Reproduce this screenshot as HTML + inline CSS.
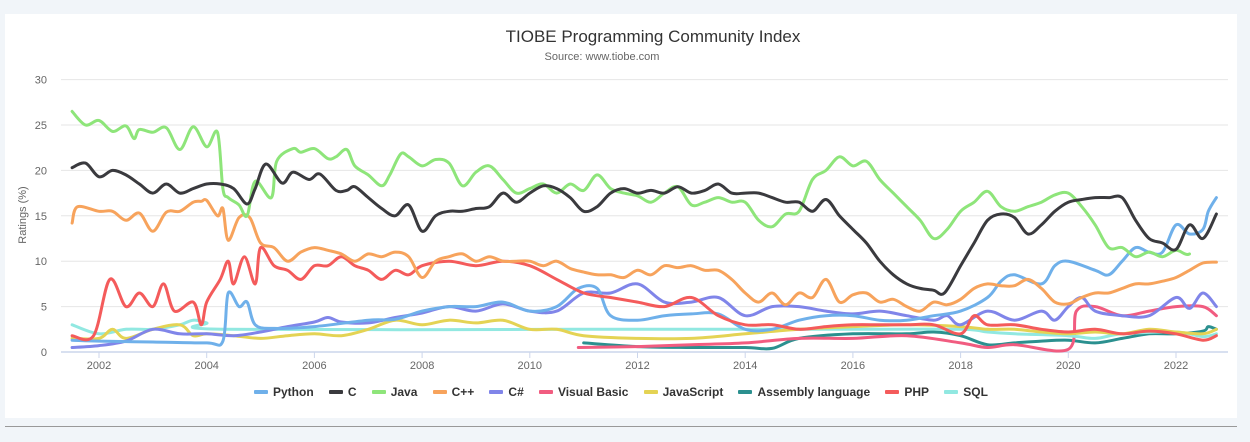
<!DOCTYPE html>
<html><head><meta charset="utf-8">
<style>
body{margin:0;width:1250px;height:442px;background:#f1f5f9;font-family:"Liberation Sans",sans-serif;overflow:hidden;position:relative}
#panel{position:absolute;left:5px;top:14px;width:1232px;height:404px;background:#fff}
#sep{position:absolute;left:5px;top:426px;width:1232px;height:1px;background:#999}
#legend{position:absolute;top:385px;left:254px;width:734px;display:flex;justify-content:space-between;font-size:12px;font-weight:bold;color:#333}
.li{display:flex;align-items:center;white-space:nowrap}
.sw{width:14px;height:4px;border-radius:1px;margin-right:5px}
</style></head><body>
<div id="panel"></div>
<svg id="chart" width="1250" height="442" style="position:absolute;left:0;top:0">
<text x="653" y="42" text-anchor="middle" font-size="17" fill="#333">TIOBE Programming Community Index</text>
<text x="602" y="60" text-anchor="middle" font-size="11" fill="#666">Source: www.tiobe.com</text>
<text transform="translate(26,215) rotate(-90)" text-anchor="middle" font-size="11" fill="#666">Ratings (%)</text>
<g id="grid"></g><g id="lines"></g>
</svg>
<div id="legend"></div>
<div id="sep"></div>
<script>
const yTicks=[0,5,10,15,20,25,30];
const xTicks=[2002,2004,2006,2008,2010,2012,2014,2016,2018,2020,2022];
const names=["Python","C","Java","C++","C#","Visual Basic","JavaScript","Assembly language","PHP","SQL"];
const colors=["#6fb0ea","#3a3a3e","#8ee57a","#f7a35c","#8085e9","#f15c80","#e4d354","#2b908f","#f45b5b","#91e8e1"];
const pythonX=[2001.5,2002,2003,2004,2004.3,2004.4,2004.6,2004.75,2004.9,2005.25,2006,2007,2007.5,2008,2008.5,2009,2009.5,2010,2010.5,2010.9,2011.25,2011.5,2012,2012.5,2013,2013.5,2014,2014.5,2015,2015.5,2016,2016.5,2017,2017.5,2018,2018.5,2018.75,2019,2019.5,2019.75,2020,2020.5,2020.75,2021,2021.25,2021.5,2021.75,2022,2022.25,2022.5,2022.6,2022.75];
const pythonY=[1.3,1.2,1.1,1.0,1.2,6.5,5,5.5,3,2.6,2.8,3.5,3.6,4.5,5,5,5.5,4.5,5,7,7,4,3.5,4,4.2,4.2,2.5,2.5,3.5,4,4,3.5,3.5,4,4.5,6,7.8,8.5,7.5,9.5,10,9,8.5,10,11.5,11,11,14,13,13.5,15.5,17];
const cX=[2001.5,2001.75,2002,2002.25,2002.5,2002.75,2003,2003.25,2003.5,2003.75,2004,2004.25,2004.5,2004.75,2004.9,2005.1,2005.4,2005.6,2005.9,2006.1,2006.4,2006.6,2006.75,2007,2007.25,2007.5,2007.75,2008,2008.25,2008.5,2008.75,2009,2009.25,2009.5,2009.75,2010,2010.25,2010.5,2010.75,2011,2011.25,2011.5,2011.75,2012,2012.25,2012.5,2012.75,2013,2013.25,2013.5,2013.75,2014,2014.25,2014.5,2014.75,2015,2015.25,2015.5,2015.75,2016,2016.25,2016.5,2016.75,2017,2017.25,2017.5,2017.7,2018,2018.25,2018.5,2018.75,2019,2019.25,2019.5,2019.75,2020,2020.25,2020.5,2020.75,2021,2021.25,2021.5,2021.75,2022,2022.25,2022.5,2022.75];
const cY=[20.3,20.8,19.3,20,19.5,18.5,17.5,18.5,17.5,18,18.5,18.5,18,16.3,18,20.7,18.6,19.8,19,19.6,17.8,17.8,18.2,17,15.8,15,16.2,13.3,15,15.5,15.5,15.8,16,17.5,16.5,17.5,18.3,18,17,15.5,16,17.5,18,17.5,17.8,17.5,18.2,17.5,17.8,18.5,17.5,17.5,17.5,17,16.5,16.5,15.5,16.8,15,13.5,12,10,8.5,7.5,7,6.8,6.5,9.5,12,14.5,15.2,14.8,13,14,15.5,16.5,16.8,17,17,17,14.5,12.5,12,11.3,14,12.5,15.2];
const javaX=[2001.5,2001.75,2002,2002.25,2002.5,2002.65,2002.75,2003,2003.25,2003.5,2003.75,2004,2004.2,2004.3,2004.4,2004.6,2004.75,2004.9,2005.2,2005.3,2005.6,2005.75,2006,2006.25,2006.4,2006.6,2006.75,2007,2007.25,2007.4,2007.6,2007.75,2008,2008.25,2008.5,2008.75,2009,2009.25,2009.5,2009.75,2010,2010.25,2010.5,2010.75,2011,2011.25,2011.5,2011.75,2012,2012.25,2012.5,2012.75,2013,2013.25,2013.5,2013.75,2014,2014.25,2014.5,2014.75,2015,2015.25,2015.5,2015.75,2016,2016.25,2016.5,2016.75,2017,2017.25,2017.5,2017.75,2018,2018.25,2018.5,2018.75,2019,2019.25,2019.5,2019.75,2020,2020.25,2020.5,2020.75,2021,2021.25,2021.5,2021.75,2022,2022.25,2022.5,2022.75];
const javaY=[26.5,25,25.5,24.3,24.9,23.5,24.5,24.2,24.7,22.3,24.8,22.6,24.2,18,17,16.2,15,18.8,17,21,22.4,22,22.4,21.3,21.5,22.3,20.5,19.5,18.3,19.5,21.8,21.5,20.5,21.2,20.8,18.3,19.8,20.5,19,17.5,18,18.5,17.5,18.5,17.8,19.5,18,17.5,17.2,16.5,17.5,18.2,16.2,16.5,17,16.5,16.5,14.5,13.8,15.2,15.5,19,20,21.5,20.5,21,19,17.5,16,14.5,12.5,13.5,15.5,16.5,17.7,16,15.5,16,16.5,17.3,17.5,16,14,11.5,11.5,10.5,11,10.5,11.2,10.8,12.8];
const cppX=[2001.5,2001.6,2002,2002.25,2002.5,2002.75,2003,2003.25,2003.5,2003.75,2003.9,2004,2004.2,2004.3,2004.4,2004.6,2004.8,2005,2005.25,2005.5,2005.75,2006,2006.25,2006.5,2006.75,2007,2007.25,2007.5,2007.75,2008,2008.25,2008.5,2008.75,2009,2009.25,2009.5,2009.75,2010,2010.25,2010.5,2010.75,2011,2011.25,2011.5,2011.75,2012,2012.25,2012.5,2012.75,2013,2013.25,2013.5,2013.75,2014,2014.25,2014.5,2014.75,2015,2015.25,2015.5,2015.75,2016,2016.25,2016.5,2016.75,2017,2017.25,2017.5,2017.75,2018,2018.25,2018.5,2018.75,2019,2019.25,2019.5,2019.75,2020,2020.25,2020.5,2020.75,2021,2021.25,2021.5,2021.75,2022,2022.25,2022.5,2022.75];
const cppY=[14.2,16,15.5,15.5,14.5,15.3,13.3,15.4,15.5,16.5,16.6,16.7,15,15.8,12.3,14.8,14.8,12,11.5,10,11,11.5,11.2,10.8,10,10.8,10.5,11,10.5,8.2,10,10.5,10.8,10,10.5,10,10,10,9.5,10,9.2,8.8,8.5,8.5,8.2,9,8.5,9.5,9.3,9.5,9,9,8,6.5,5.5,6.5,5.2,6.5,6,8,5.5,6.3,6.5,5.5,5.8,5,4.5,5.5,5.2,5.8,7,7.5,7.3,7.3,8,7,5.5,5.3,6,6.5,6.5,7,7.5,7.5,7.8,8.2,9,9.8,9.9];
const csX=[2001.5,2002,2002.5,2003,2003.5,2004,2004.5,2005,2005.5,2006,2006.25,2006.5,2007,2007.5,2008,2008.5,2009,2009.5,2010,2010.5,2011,2011.5,2012,2012.5,2013,2013.5,2014,2014.5,2015,2015.5,2016,2016.5,2017,2017.5,2017.75,2018,2018.5,2019,2019.5,2019.75,2020,2020.25,2020.5,2021,2021.5,2022,2022.25,2022.5,2022.75];
const csY=[0.5,0.7,1.2,2.5,2,2,1.8,2.2,2.8,3.3,3.8,3.3,3.2,3.8,4.3,5,4.5,5.3,4.5,4.5,6.5,6.5,7.5,5.5,5.5,6,4,5,5,4.5,4.2,4.5,4,3.5,4,3,4.5,3.5,4.5,3.5,5,6,4.5,4,4,6,4.8,6.5,5];
const vbX=[2010.9,2012,2013,2014,2015,2016,2017,2018,2018.5,2019,2020,2020.15,2020.5,2021,2021.5,2022,2022.5,2022.75];
const vbY=[0.5,0.6,0.8,1,1.5,1.5,1.8,1,0.5,0.8,0.3,4.5,5,4,4.5,5,5,4];
const jsX=[2001.5,2002,2002.25,2002.5,2003,2003.5,2003.75,2004,2004.5,2005,2005.5,2006,2006.5,2007,2007.5,2008,2008.5,2009,2009.5,2010,2010.5,2011,2012,2013,2014,2015,2016,2017,2018,2018.5,2019,2019.5,2020,2020.5,2021,2021.5,2022,2022.5,2022.75];
const jsY=[1.5,1.5,2.5,1.5,2.5,3,1.8,2,1.8,1.5,1.8,2,1.8,2.5,3.5,3,3.5,3.2,3.5,2.5,2.5,1.8,1.5,1.5,2,2.5,2.8,3,2.8,2.5,2.5,2.2,2,2.2,2,2.5,2.2,2,2.5];
const asmX=[2011,2012,2013,2014,2014.5,2015,2016,2017,2017.5,2018,2018.5,2019,2019.5,2020,2020.5,2021,2021.5,2022,2022.5,2022.6,2022.75];
const asmY=[1,0.6,0.5,0.5,0.4,1.5,2,2,2.2,1.8,0.8,1,1.2,1.3,1,1.5,2,2,2.3,2.8,2.5];
const phpX=[2001.5,2001.9,2002.2,2002.5,2002.75,2003,2003.2,2003.4,2003.75,2003.9,2004,2004.25,2004.4,2004.5,2004.7,2004.9,2005,2005.25,2005.5,2005.75,2006,2006.25,2006.5,2006.75,2007,2007.25,2007.5,2007.75,2008,2008.5,2009,2009.5,2010,2010.5,2011,2011.5,2012,2012.5,2013,2013.5,2014,2014.5,2015,2015.5,2016,2016.5,2017,2017.5,2018,2018.25,2018.5,2019,2019.5,2020,2020.5,2021,2021.5,2022,2022.5,2022.75];
const phpY=[1.8,1.8,8,5,6.5,5,7.5,4.5,5.5,3,5.5,8,10,7.5,10.5,7.5,11.5,9.5,9,8,9.5,9.5,10.5,9.5,9,8,9,8.5,9.5,10,9.5,10,9.5,8,6.5,6,5.5,5,6,4,3,3,2.5,2.8,3,3,3,3,2,4,3,3,2.5,2.2,2.5,2,2.3,2,1.3,1.8];
const sqlX=[2001.5,2002,2002.5,2003,2003.5,2003.75,2004,2004.3,2010.8,2012,2014,2016,2018,2018.5,2019,2020,2020.5,2021,2022,2022.5,2022.75];
const sqlY=[3,2,2.5,2.5,3,3.5,3.2,2.5,2.5,2.5,2.5,2.5,2.5,2.2,2,1.8,1.5,2,2.2,1.7,2];
const seriesX=[pythonX,cX,javaX,cppX,csX,vbX,jsX,asmX,phpX,sqlX];
const seriesY=[pythonY,cY,javaY,cppY,csY,vbY,jsY,asmY,phpY,sqlY];
const order=[7,5,9,6,4,0,8,3,2,1];
const X0=61,X1=1228;
function xs(yr){return 99+(yr-2002)*53.85;}
function ys(v){return 352-v*9.08;}
function smoothPath(p){
 let d='M'+p[0][0].toFixed(1)+','+p[0][1].toFixed(1);
 for(let i=0;i<p.length-1;i++){
  const p0=p[i-1]||p[i],p1=p[i],p2=p[i+1],p3=p[i+2]||p2;
  const c1x=p1[0]+(p2[0]-p0[0])/6,c1y=p1[1]+(p2[1]-p0[1])/6;
  const c2x=p2[0]-(p3[0]-p1[0])/6,c2y=p2[1]-(p3[1]-p1[1])/6;
  d+=' C'+c1x.toFixed(1)+','+c1y.toFixed(1)+' '+c2x.toFixed(1)+','+c2y.toFixed(1)+' '+p2[0].toFixed(1)+','+p2[1].toFixed(1);
 }
 return d;
}
const NS="http://www.w3.org/2000/svg";
const grid=document.getElementById('grid');
yTicks.forEach(t=>{
 const l=document.createElementNS(NS,'line');
 l.setAttribute('x1',X0);l.setAttribute('x2',X1);l.setAttribute('y1',ys(t));l.setAttribute('y2',ys(t));
 l.setAttribute('stroke',t===0?'#ccd6eb':'#e6e6e6');l.setAttribute('stroke-width',t===0?1.5:1);
 
 
 grid.appendChild(l);
 const tx=document.createElementNS(NS,'text');
 tx.setAttribute('x',47);tx.setAttribute('y',ys(t)+4);tx.setAttribute('text-anchor','end');
 tx.setAttribute('font-size','11');tx.setAttribute('fill','#666');tx.textContent=t;
 
 
 grid.appendChild(tx);
});
xTicks.forEach(t=>{
 const l=document.createElementNS(NS,'line');
 l.setAttribute('x1',xs(t));l.setAttribute('x2',xs(t));l.setAttribute('y1',352);l.setAttribute('y2',358);
 l.setAttribute('stroke','#ccd6eb');
 
 
 grid.appendChild(l);
 const tx=document.createElementNS(NS,'text');
 tx.setAttribute('x',xs(t));tx.setAttribute('y',369);tx.setAttribute('text-anchor','middle');
 tx.setAttribute('font-size','11');tx.setAttribute('fill','#666');tx.textContent=t;
 
 
 grid.appendChild(tx);
});
const lines=document.getElementById('lines');
order.forEach(i=>{
 const pts=seriesX[i].map((x,j)=>[xs(x),ys(seriesY[i][j])]);
 const p=document.createElementNS(NS,'path');
 p.setAttribute('d',smoothPath(pts));p.setAttribute('fill','none');p.setAttribute('stroke',colors[i]);
 p.setAttribute('stroke-width','3');p.setAttribute('stroke-linejoin','round');p.setAttribute('stroke-linecap','round');
 
 
 lines.appendChild(p);
});
const lg=document.getElementById('legend');
names.forEach((n,i)=>{
 const d=document.createElement('div');d.className='li';
 
 
 d.innerHTML='<span class="sw" style="background:'+colors[i]+'"></span>'+n;
 lg.appendChild(d);
});
</script>
</body></html>
